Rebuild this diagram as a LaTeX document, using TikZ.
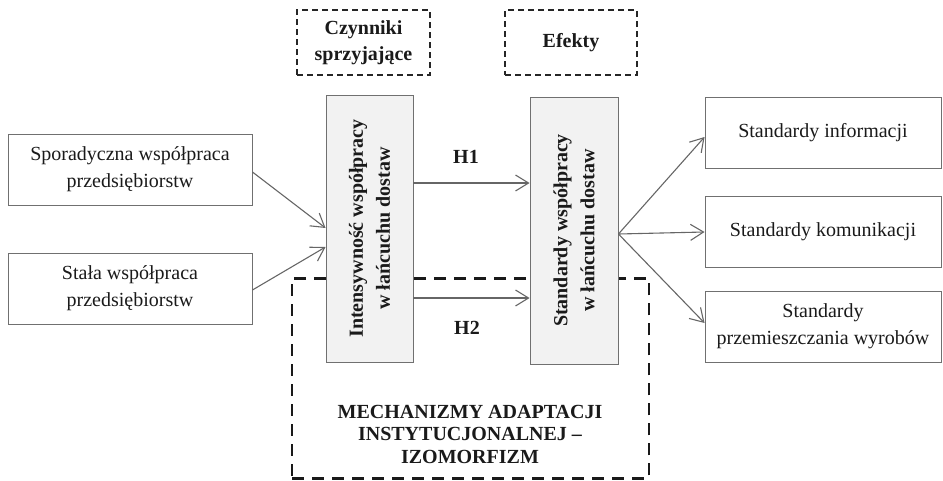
\documentclass[tikz,border=0pt]{standalone}
\usepackage{fontspec}
\setmainfont{Liberation Serif}
\usetikzlibrary{arrows.meta,calc}
\definecolor{boxgray}{HTML}{707070}
\definecolor{linegray}{HTML}{666666}
\definecolor{fillgray}{HTML}{F2F2F2}
\definecolor{txt}{HTML}{1A1A1A}
\begin{document}
\begin{tikzpicture}[x=1pt,y=-1pt,
  box/.style={draw=boxgray, line width=0.9pt, minimum width=236pt, minimum height=71pt,
    inner sep=0pt, align=center, text=txt, font=\fontsize{20}{27}\selectfont},
  leftbox/.style={box, minimum width=244pt},
  greybox/.style={draw=boxgray, line width=0.9pt, fill=fillgray, minimum width=87pt,
    minimum height=267pt, inner sep=0pt},
  vtext/.style={rotate=90, align=center, text=txt, inner sep=0pt,
    font=\bfseries\fontsize{20}{27}\selectfont},
  topbox/.style={draw=black!85, line width=1.4pt, dash pattern=on 6pt off 4pt,
    minimum width=133pt, minimum height=65pt, inner sep=0pt, align=center, text=txt,
    font=\bfseries\fontsize{20}{26}\selectfont},
  bigdash/.style={draw=black!90, line width=2.8pt, dash pattern=on 12pt off 8pt},
  hlabel/.style={text=txt, inner sep=0pt, font=\bfseries\fontsize{20}{24}\selectfont},
  conn/.style={draw=linegray, line width=1.1pt,
    -{Straight Barb[length=13pt,width=16pt,line width=1.1pt]}}
]
\useasboundingbox (0,0) rectangle (943,480);

% big dashed box (drawn first, partly covered by the grey boxes)
\node[bigdash, minimum width=357pt, minimum height=200pt, inner sep=0pt] (mech) at (470.5,378.3) {};
\node[text=txt, align=center, inner sep=0pt, font=\bfseries\fontsize{20}{22.5}\selectfont]
  (mechtext) at (470,434) {MECHANIZMY ADAPTACJI\\INSTYTUCJONALNEJ –\\IZOMORFIZM};

% top dashed labels
\node[topbox] (czyn) at (363.5,42.5) {Czynniki\\sprzyjające};
\node[topbox, minimum width=132pt] (efek) at (571,42.5) {Efekty};

% left boxes
\node[leftbox] (spor) at (130,169.5) {Sporadyczna współpraca\\przedsiębiorstw};
\node[leftbox] (stala) at (130,288.5) {Stała współpraca\\przedsiębiorstw};

% grey central boxes
\node[greybox] (intbox) at (369.5,228.5) {};
\node[vtext] (inttext) at (intbox.center) {Intensywność współpracy\\w łańcuchu dostaw};
\node[greybox, minimum width=88pt] (stdbox) at (574,230.5) {};
\node[vtext] (stdtext) at (stdbox.center) {Standardy współpracy\\w łańcuchu dostaw};

% right boxes
\node[box] (info) at (823,132.5) {Standardy informacji};
\node[box] (komu) at (823,231.5) {Standardy komunikacji};
\node[box] (prze) at (823,326.5) {Standardy\\przemieszczania wyrobów};

% hypotheses labels
\node[hlabel] (h1) at (466,157) {H1};
\node[hlabel] (h2) at (467,328) {H2};

% connectors
\draw[conn] (spor.east |- 0,172) -- (intbox.west |- 0,228);
\draw[conn] (stala.east |- 0,290) -- (intbox.west |- 0,247);
\draw[conn] (intbox.east |- 0,183) -- (stdbox.west |- 0,183);
\draw[conn] (intbox.east |- 0,298) -- (stdbox.west |- 0,298);
\coordinate (hub) at (stdbox.east |- 0,234);
\draw[conn] (hub) -- (info.west |- 0,137);
\draw[conn] (hub) -- (komu.west |- 0,232);
\draw[conn] (hub) -- (prze.west |- 0,323);
\end{tikzpicture}
\end{document}
